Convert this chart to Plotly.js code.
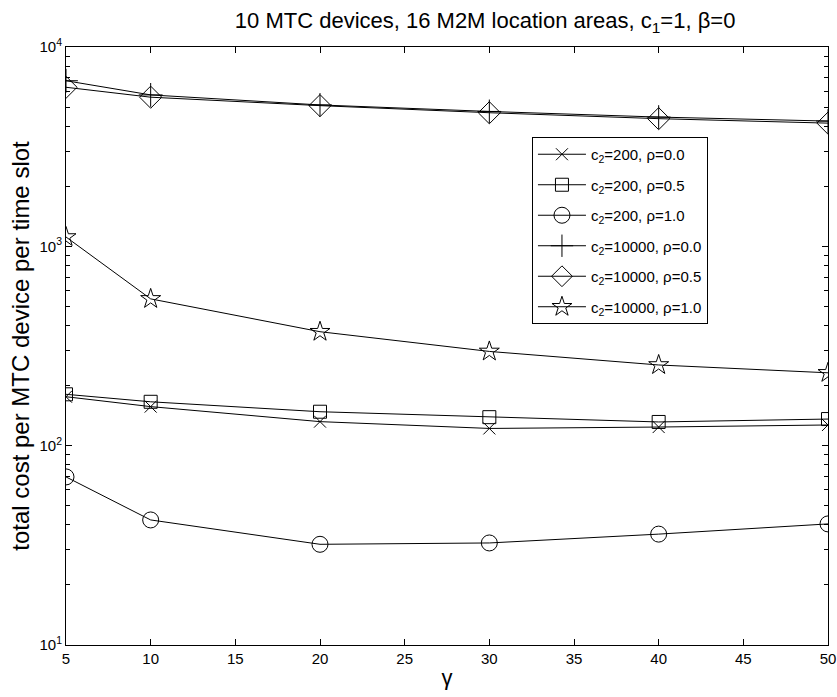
<!DOCTYPE html>
<html>
<head>
<meta charset="utf-8">
<script src="https://cdn.plot.ly/plotly-3.0.1.min.js"></script>
<style>html,body{margin:0;padding:0;background:#fff;}#chart{width:837px;height:697px;}</style>
</head>
<body>
<div id="chart"></div>
<script>
const gamma = [5, 10, 20, 30, 40, 50];
const c200_rho00 = [176, 157, 132, 122, 124, 127];
const c200_rho05 = [181, 166, 148, 139, 131.5, 136];
const c200_rho10 = [69.7, 42.4, 32, 32.5, 36, 40.5];
const c10000_rho00 = [6774, 5750, 5120, 4750, 4450, 4250];
const c10000_rho05 = [6280, 5600, 5080, 4680, 4370, 4150];
const c10000_rho10 = [1114, 545, 373, 297, 254, 232];
const seriesNames = [
  "c<sub>2</sub>=200, ρ=0.0",
  "c<sub>2</sub>=200, ρ=0.5",
  "c<sub>2</sub>=200, ρ=1.0",
  "c<sub>2</sub>=10000, ρ=0.0",
  "c<sub>2</sub>=10000, ρ=0.5",
  "c<sub>2</sub>=10000, ρ=1.0"
];
const xTicks = [5, 10, 15, 20, 25, 30, 35, 40, 45, 50];
const yTickVals = [10, 100, 1000, 10000];
const yTickText = ["10<sup>1</sup>", "10<sup>2</sup>", "10<sup>3</sup>", "10<sup>4</sup>"];

const seriesData = [c200_rho00, c200_rho05, c200_rho10, c10000_rho00, c10000_rho05, c10000_rho10];
const symbols = ["x-thin-open", "square-open", "circle-open", "cross-thin-open", "diamond-open", "star-open"];
const sizes = [12, 13, 16, 17, 17, 15];

const traces = seriesData.map((y, i) => ({
  x: gamma, y: y, name: seriesNames[i], type: "scatter", mode: "lines+markers",
  legendgroup: "g" + i,
  line: {color: "black", width: 1},
  marker: {symbol: symbols[i], size: sizes[i], color: "black", line: {color: "black", width: 1}}
}));

const font = {family: "Liberation Sans, Arial, sans-serif", color: "black"};
const layout = {
  width: 837, height: 697,
  margin: {l: 66, r: 9, t: 47, b: 52},
  paper_bgcolor: "white", plot_bgcolor: "white",
  font: Object.assign({size: 15}, font),
  showlegend: true,
  title: {text: "10 MTC devices, 16 M2M location areas, c<sub>1</sub>=1, β=0",
          font: Object.assign({size: 22}, font), x: 0.55, xref: "paper", xanchor: "center", y: 0.971, yref: "container", yanchor: "middle"},
  xaxis: {range: [5, 50], tickvals: xTicks, ticks: "inside", ticklen: 6, tickcolor: "black",
          showline: true, linecolor: "black", linewidth: 1, mirror: "ticks", showgrid: false, zeroline: false,
          tickfont: Object.assign({size: 15}, font),
          title: {text: "γ", font: Object.assign({size: 22}, font), standoff: 3}},
  yaxis: {type: "log", range: [1, 4], tickvals: yTickVals, ticktext: yTickText, ticks: "inside", ticklen: 6, tickcolor: "black",
          showline: true, linecolor: "black", linewidth: 1, mirror: "ticks", showgrid: false, zeroline: false,
          tickfont: Object.assign({size: 15}, font),
          minor: {ticks: "inside", ticklen: 4, tickcolor: "black", dtick: "D1", showgrid: false},
          title: {text: "total cost per MTC device per time slot", font: Object.assign({size: 24}, font), standoff: 3}},
  legend: {x: 0.6115, y: 0.8495, xanchor: "left", yanchor: "top", bordercolor: "black", borderwidth: 1,
           bgcolor: "white", font: Object.assign({size: 15}, font), tracegroupgap: 8, itemwidth: 48}
};
Plotly.newPlot("chart", traces, layout, {displayModeBar: false});
</script>
</body>
</html>
